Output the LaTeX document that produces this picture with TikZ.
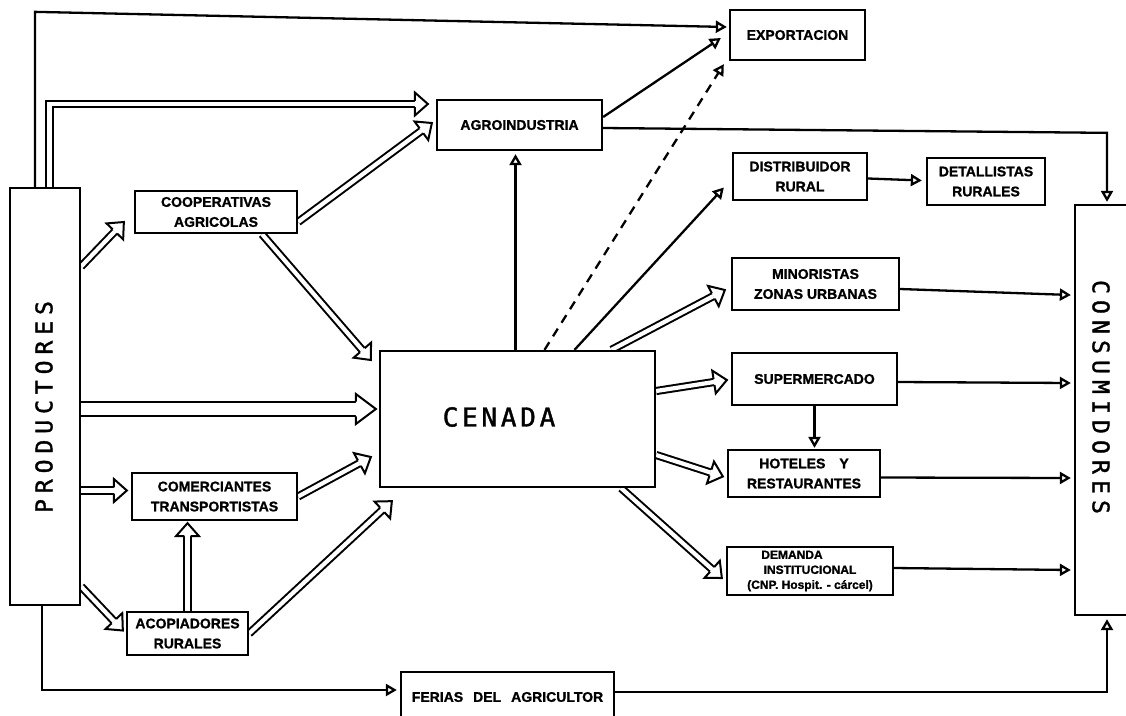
\documentclass[tikz,border=0pt]{standalone}
\usepackage{fontspec}
\setmainfont{Liberation Sans}[BoldFeatures={FakeBold=1.2}]
\newfontfamily\monof{DejaVu Sans Mono}[FakeBold=1.5]
\usetikzlibrary{arrows.meta,calc}
\pgfdeclarelayer{bg}
\pgfsetlayers{bg,main}

\makeatletter
\newcommand\spacedtext[2]{\def\sp@w{#1}\sp@loop#2\@nil}
\def\sp@loop#1{\ifx#1\@nil\else\makebox[\sp@w]{#1}\expandafter\sp@loop\fi}
\makeatother

\pgfdeclarearrow{
  name = Hol,
  parameters = {\the\pgfarrowlength,\the\pgfarrowwidth,\the\pgfarrowinset},
  setup code = {
    \pgfarrowssettipend{\pgfarrowlength}
    \pgfarrowssetlineend{0pt}
    \pgfarrowssetbackend{0pt}
    \pgfarrowssavethe\pgfarrowlength
    \pgfarrowssavethe\pgfarrowwidth
    \pgfarrowssavethe\pgfarrowinset
  },
  drawing code = {
    \pgfsetinnerlinewidth{0pt}
    \pgfsetlinewidth{2pt}
    \pgfsetmiterjoin
    \pgfsetstrokecolor{black}
    \pgfsetfillcolor{white}
    \pgfpathmoveto{\pgfqpoint{0pt}{0.5\pgfarrowwidth}}
    \pgfpathlineto{\pgfqpoint{\pgfarrowlength}{0pt}}
    \pgfpathlineto{\pgfqpoint{0pt}{-0.5\pgfarrowwidth}}
    \pgfpathclose
    \pgfusepathqfill
    \pgfpathmoveto{\pgfqpoint{0pt}{\pgfarrowinset}}
    \pgfpathlineto{\pgfqpoint{0pt}{0.5\pgfarrowwidth}}
    \pgfpathlineto{\pgfqpoint{\pgfarrowlength}{0pt}}
    \pgfpathlineto{\pgfqpoint{0pt}{-0.5\pgfarrowwidth}}
    \pgfpathlineto{\pgfqpoint{0pt}{-\pgfarrowinset}}
    \pgfusepathqstroke
  },
  defaults = {length=12pt, width=22pt, inset=3pt}
}

\tikzset{
  box/.style={draw, fill=white, line width=2.3pt, inner sep=0pt, align=center,
    font=\bfseries\fontsize{14}{20}\selectfont},
  bigtext/.style={inner sep=0pt, font=\monof\fontsize{23}{23}\selectfont},
  sar/.style={line width=2.3pt, -{Triangle[open, length=11pt, width=12pt]}},
  har/.style={double, double distance=4.2pt, line width=2pt,
    -{Hol[length=13pt, width=23pt, inset=3.1pt]}},
  bigar/.style={double, double distance=12.5pt, line width=2.1pt,
    -{Hol[length=20pt, width=30pt, inset=7.3pt]}},
}

\begin{document}
\begin{tikzpicture}[x=1pt, y=-1pt]
\useasboundingbox (0,0) rectangle (1126,715);

% boxes
\node[box, minimum width=70pt, minimum height=417pt] (prod) at (45,396.5) {};
\node[bigtext, rotate=90] (prodtxt) at (44,407) {\spacedtext{19.8pt}{PRODUCTORES}};
\node[box, minimum width=60pt, minimum height=410pt] (cons) at (1105,410) {};
\node[bigtext, rotate=-90] (constxt) at (1101,397) {\spacedtext{20pt}{CONSUMIDORES}};
\node[box, minimum width=275pt, minimum height=136pt] (cenada) at (517.5,419) {};
\node[inner sep=0pt, font=\monof\fontsize{26}{26}\selectfont] (cenadatxt) at (499,417) {\spacedtext{19.4pt}{CENADA}};

\node[box, minimum width=135pt, minimum height=50pt] (expo) at (797.5,35) {EXPORTACION};
\node[box, minimum width=165pt, minimum height=50pt] (agro) at (519.5,125) {AGROINDUSTRIA};
\node[box, minimum width=162pt, minimum height=42pt] (coop) at (216,212) {COOPERATIVAS\\AGRICOLAS};
\node[box, minimum width=134pt, minimum height=47pt] (distr) at (800,176.5) {DISTRIBUIDOR\\RURAL};
\node[box, minimum width=118pt, minimum height=47pt] (detal) at (986,181.5) {DETALLISTAS\\RURALES};
\node[box, minimum width=167pt, minimum height=52pt] (mino) at (815.5,284) {MINORISTAS\\ZONAS URBANAS};
\node[box, minimum width=165pt, minimum height=52pt] (super) at (814.5,379) {SUPERMERCADO};
\node[box, minimum width=152pt, minimum height=47pt] (hotel) at (804,473.5) {HOTELES\hspace{14pt}Y\\RESTAURANTES};
\node[box, minimum width=166pt, minimum height=48pt, font=\bfseries\fontsize{12}{15}\selectfont] (dem) at (810,571)
  {DEMANDA\hspace*{36pt}\\INSTITUCIONAL\\(CNP. Hospit. - cárcel)};
\node[box, minimum width=165pt, minimum height=47pt] (comer) at (214.5,496.5) {COMERCIANTES\\TRANSPORTISTAS};
\node[box, minimum width=121pt, minimum height=43pt] (acop) at (187.5,633.5) {ACOPIADORES\\RURALES};
\node[box, minimum width=213pt, minimum height=50pt] (ferias) at (507.5,697) {FERIAS\hspace{10pt}DEL\hspace{10pt}AGRICULTOR};

\begin{pgfonlayer}{bg}
% single-line connectors
\draw[sar] ($(prod.north)+(-10,0)$) -- ($(prod.north)+(-10,-175)$) -- ($(expo.west)+(-2,-8)$);
\draw[sar] ($(cenada.north)+(-2,0)$) -- ($(cenada.north |- agro.south)+(-2,3)$);
\draw[sar, dash pattern=on 9pt off 7pt] ($(cenada.north)+(27,0)$) -- ($(expo.south west)+(-5,3)$);
\draw[sar] ($(agro.east)+(0,-8)$) -- ($(expo.west)+(-8,3)$);
\draw[sar] ($(agro.east)+(0,3)$) -- ($(cons.north)+(2,-71)$) -- ($(cons.north)+(2,-2)$);
\draw[sar] ($(cenada.north)+(57,0)$) -- ($(distr.west)+(-8,11)$);
\draw[sar] ($(distr.east)+(0,2)$) -- ($(detal.west)+(-4,-1)$);
\draw[sar] (super.south) -- ($(super.south |- hotel.north)+(0,-1)$);
\draw[sar] ($(mino.east)+(0,5)$) -- ($(cons.west)+(-3,-115)$);
\draw[sar] ($(super.east)+(0,3)$) -- ($(cons.west)+(-3,-27)$);
\draw[sar] ($(hotel.east)+(0,4)$) -- ($(cons.west)+(-3,68)$);
\draw[sar] ($(dem.east)+(0,-3)$) -- ($(cons.west)+(-3,160)$);
\draw[sar] ($(prod.south)+(-3,0)$) |- ($(ferias.west)+(-3,-7)$);
\draw[sar] ($(ferias.east)+(0,-5)$) -| ($(cons.south)+(2,3)$);

% hollow connectors
\draw[har] ($(prod.north)+(4.5,0)$) |- ($(agro.west)+(-8,-21)$);
\draw[har] ($(coop.east)+(0,10)$) -- ($(agro.west)+(-4,-2)$);
\draw[har] ($(prod.east)+(0,-130)$) -- ($(coop.west)+(-10,10)$);
\draw[har] ($(coop.south)+(46,0)$) -- ($(cenada.west)+(-8,-59)$);
\coordinate (fT) at ($(cenada.west)+(-3,-10)$);
\draw[bigar] (prod.east |- fT) -- (fT);
\coordinate (gT) at ($(comer.west)+(-4,-6)$);
\draw[har] (prod.east |- gT) -- (gT);
\draw[har] (comer.east) -- ($(cenada.west)+(-8,38)$);
\draw[har] (acop.north) -- ($(acop.north |- comer.south)+(0,2)$);
\draw[har] (acop.east) -- ($(cenada.south west)+(13,13)$);
\draw[har] ($(prod.east)+(0,190)$) -- ($(acop.west)+(-3,-3)$);
\draw[har] ($(cenada.north)+(94,0)$) -- ($(mino.west)+(-6,6)$);
\draw[har] ($(cenada.east)+(0,-28)$) -- ($(super.west)+(-4,1)$);
\draw[har] ($(cenada.east)+(0,36)$) -- ($(hotel.west)+(-4,3)$);
\draw[har] ($(cenada.south east)+(-35,0)$) -- ($(dem.west)+(-4,7)$);
\end{pgfonlayer}
\end{tikzpicture}
\end{document}
